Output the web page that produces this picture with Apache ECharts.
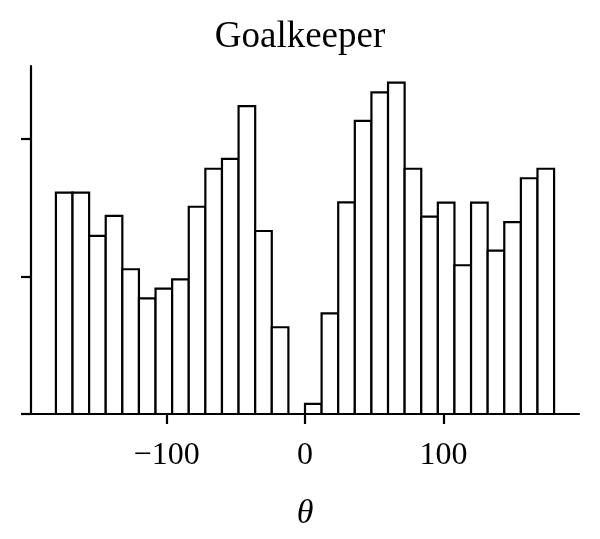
<!DOCTYPE html>
<html>
<head>
<meta charset="utf-8">
<style>
  html, body { margin: 0; padding: 0; background: #fff; }
  #chart { width: 600px; height: 539px; }
</style>
<script src="https://cdn.jsdelivr.net/npm/echarts@6/dist/echarts.min.js"></script>
</head>
<body>
<div id="chart"></div>
<script>
// Histogram bins (degrees): left edges and right edges
var binStart = [-180, -168, -156, -144, -132, -120, -108, -96, -84, -72, -60, -48, -36, -24, -12,
                0, 12, 24, 36, 48, 60, 72, 84, 96, 108, 120, 132, 144, 156, 168];
var binEnd   = [-168, -156, -144, -132, -120, -108, -96, -84, -72, -60, -48, -36, -24, -12, 0,
                12, 24, 36, 48, 60, 72, 84, 96, 108, 120, 132, 144, 156, 168, 180];
// Bar heights (arbitrary count units, ticks at 100 and 200)
var counts = [160.7, 160.7, 129.3, 143.8, 105.1, 84.0, 91.0, 97.8, 150.5, 178.1, 185.2, 223.5, 132.9, 63.0, 0,
              7.3, 73.1, 153.7, 212.8, 233.6, 240.6, 178.1, 143.3, 153.5, 108.0, 153.5, 118.6, 139.4, 171.2, 178.1];
var xTicks = [-100, 0, 100];
var yTicks = [0, 100, 200];

var data = [];
for (var i = 0; i < counts.length; i++) {
  data.push([binStart[i], binEnd[i], counts[i]]);
}

var chart = echarts.init(document.getElementById('chart'), null, { renderer: 'canvas' });
var serif = "'Liberation Serif', 'DejaVu Serif', serif";
chart.setOption({
  animation: false,
  backgroundColor: '#ffffff',
  title: {
    text: 'Goalkeeper',
    left: 'center',
    top: 14,
    textStyle: { fontFamily: serif, fontSize: 37, fontWeight: 'normal', color: '#000' }
  },
  grid: { left: 31, right: 21, top: 66, bottom: 125 },
  xAxis: {
    type: 'value',
    min: -198,
    max: 198,
    name: 'θ',
    nameLocation: 'middle',
    nameGap: 83,
    nameTextStyle: { fontFamily: serif, fontSize: 34, fontStyle: 'italic', color: '#000' },
    splitLine: { show: false },
    axisLine: { show: true, onZero: false, lineStyle: { color: '#000', width: 2.2 } },
    axisTick: { show: true, length: 10, lineStyle: { color: '#000', width: 2.2 }, customValues: xTicks },
    axisLabel: { show: true, margin: 26, fontFamily: serif, fontSize: 32, color: '#000', customValues: xTicks,
      formatter: function (v) { return v < 0 ? '\u2212' + Math.abs(v) : String(v); } }
  },
  yAxis: {
    type: 'value',
    min: 0,
    max: 252.7,
    splitLine: { show: false },
    axisLine: { show: true, onZero: false, lineStyle: { color: '#000', width: 2.2 } },
    axisTick: { show: true, length: 10, lineStyle: { color: '#000', width: 2.2 }, customValues: yTicks },
    axisLabel: { show: false }
  },
  series: [{
    type: 'custom',
    data: data,
    encode: { x: [0, 1], y: 2 },
    renderItem: function (params, api) {
      var h = api.value(2);
      if (!(h > 0)) return null;
      var p0 = api.coord([api.value(0), 0]);
      var p1 = api.coord([api.value(1), h]);
      return {
        type: 'rect',
        shape: { x: p0[0], y: p1[1], width: p1[0] - p0[0], height: p0[1] - p1[1] },
        style: { fill: '#ffffff', stroke: '#000000', lineWidth: 2.2 }
      };
    }
  }]
});
</script>
</body>
</html>
